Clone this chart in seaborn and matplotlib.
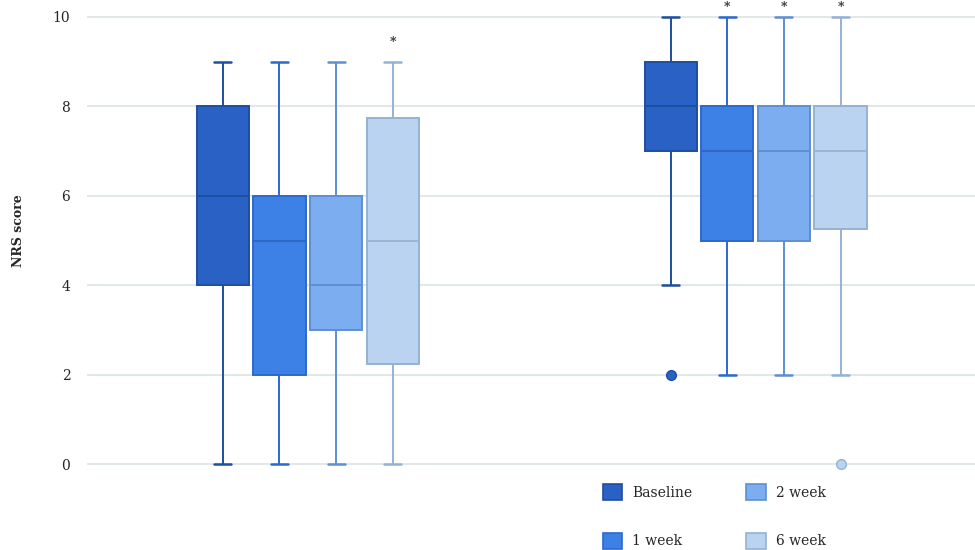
# NRS skoru kutu grafiği

import numpy as np
import pandas as pd
import seaborn as sns
import matplotlib.pyplot as plt
from matplotlib.patches import Patch

# VERİ (her kutu için okunan değerler)
groups = ["Group 1", "Group 2"]
times = ["Baseline", "1 week", "2 week", "6 week"]

g1_baseline = [0, 4, 6, 8, 9]
g1_week1 = [0, 2, 5, 6, 9]
g1_week2 = [0, 3, 4, 6, 9]
g1_week6 = [0, 2, 3, 7, 8, 9]
g2_baseline = [2, 4, 7, 7, 8, 9, 9, 10, 10]
g2_week1 = [2, 5, 7, 8, 10]
g2_week2 = [2, 5, 7, 8, 10]
g2_week6 = [0, 2, 5, 6, 7, 7, 8, 8, 10, 10]

# yıldız işaretleri: (grup, zaman, üst kenar y)
star_groups = ["Group 1", "Group 2", "Group 2", "Group 2"]
star_times = ["6 week", "1 week", "2 week", "6 week"]
star_y = [9.58, 10.35, 10.35, 10.35]

# RENKLER
fills = ["#2962C4", "#3D80E6", "#7BADF0", "#B9D3F0"]
edges = ["#1E4E9E", "#2C69CF", "#5F8FD1", "#94B2D3"]
medians = ["#1D4FA3", "#2D68C9", "#5F8FD0", "#9AB6D6"]

rows = []
for grp, t, vals in [("Group 1", "Baseline", g1_baseline), ("Group 1", "1 week", g1_week1),
                     ("Group 1", "2 week", g1_week2), ("Group 1", "6 week", g1_week6),
                     ("Group 2", "Baseline", g2_baseline), ("Group 2", "1 week", g2_week1),
                     ("Group 2", "2 week", g2_week2), ("Group 2", "6 week", g2_week6)]:
    for v in vals:
        rows.append({"group": grp, "time": t, "score": v})
df = pd.DataFrame(rows)

sns.set_style("white")
plt.rcParams["font.family"] = ["DejaVu Serif"]

fig, ax = plt.subplots(figsize=(9.75, 5.5), dpi=100)
ax.set_position([87 / 975, 68 / 550, 888 / 975, 482 / 550])

sns.boxplot(data=df, x="group", y="score", hue="time", order=groups, hue_order=times,
            palette=fills, width=0.506, gap=0.08, linewidth=1.4, fliersize=7,
            saturation=1, legend=False, ax=ax)

# kutu renklerini ayarla
centers = {}
for cont, t, e, m, f in zip(ax.containers, times, edges, medians, fills):
    for b in cont.boxes:
        b.set_edgecolor(e)
        b.set_linewidth(1.4)
    for ln in cont.whiskers:
        ln.set_color(e)
        ln.set_linewidth(1.4)
    for ln in cont.caps:
        ln.set_color(e)
        ln.set_linewidth(1.8)
        xc = np.mean(ln.get_xdata())
        ln.set_xdata([xc - 0.019, xc + 0.019])
    for ln in cont.medians:
        ln.set_color(m)
        ln.set_linewidth(1.4)
    for ln in cont.fliers:
        ln.set_marker("o")
        ln.set_markerfacecolor(f)
        ln.set_markeredgecolor(e)
        ln.set_markersize(7)
    for grp, ln in zip(groups, cont.medians):
        centers[(grp, t)] = np.mean(ln.get_xdata())

for grp, t, y in zip(star_groups, star_times, star_y):
    ax.text(centers[(grp, t)], y, "*", ha="center", va="top", fontsize=9,
            fontweight="bold", color="#333333", clip_on=False)

ax.set_xlim(-0.493, 1.49)
ax.set_ylim(-0.4, 10.38)
ax.set_yticks([0, 2, 4, 6, 8, 10])
ax.set_xticks([])
ax.set_xlabel("")
ax.set_ylabel("NRS score", fontsize=9, fontweight="bold")
ax.yaxis.set_label_coords(-0.0698, 0.521)
ax.tick_params(axis="y", length=0, pad=12, labelsize=10)
ax.yaxis.grid(True, color="#E2E8E8", linewidth=1.5)
ax.set_axisbelow(True)
for s in ax.spines.values():
    s.set_visible(False)

handles = [Patch(facecolor=f, edgecolor=e, linewidth=1.2, label=t)
           for f, e, t in zip(fills, edges, times)]
fig.legend(handles=handles, loc="upper left", bbox_to_anchor=(603 / 975, 1 - 484 / 550),
           ncol=2, frameon=False, fontsize=10, handlelength=1.4, handleheight=1.4,
           handletextpad=0.7, columnspacing=3.9, labelspacing=2.35,
           borderpad=0, borderaxespad=0)

plt.savefig("out.png", dpi=100)
